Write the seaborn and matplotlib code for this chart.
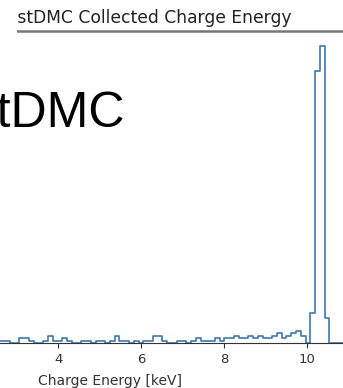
import numpy as np
import pandas as pd
import matplotlib
matplotlib.use('Agg')
import matplotlib.pyplot as plt
from matplotlib.patches import Rectangle
import seaborn as sns

# histogram of collected charge energy, 100 bins between -0.5 and 11 keV
e_min, e_max, n_bins = -0.5, 11.0, 100
counts = [
    1, 2, 1, 0, 1, 1, 2, 1, 1, 0,
    1, 1, 0, 1, 2, 1, 1, 1, 0, 1,
    1, 2, 1, 1, 0, 1, 1, 1, 1, 0,
    0, 2, 2, 1, 0, 0, 1, 3, 1, 1,
    2, 1, 0, 0, 1, 1, 0, 1, 1, 0,
    1, 3, 1, 1, 0, 1, 0, 1, 1, 3,
    3, 1, 0, 0, 1, 1, 0, 1, 2, 1,
    1, 1, 2, 1, 2, 2, 3, 2, 2, 3,
    2, 3, 2, 2, 3, 4, 2, 3, 4, 5,
    3, 0, 12, 110, 120, 10, 0, 0, 0, 0,
]
title = 'testDMC Collected Charge Energy'
big_label = 'testDMC'
x_label = 'Charge Energy [keV]'

edges = list(np.linspace(e_min, e_max, n_bins + 1))
centers = [(a + b) / 2 for a, b in zip(edges[:-1], edges[1:])]
df = pd.DataFrame({'energy': centers, 'n': counts})

sns.set_style('ticks')
plt.rcParams['xtick.major.size'] = 3.5

fig = plt.figure(figsize=(3.43, 3.88), dpi=100)
ax = fig.add_axes([-0.375, 0.116, 1.391, 0.803])

sns.histplot(data=df, x='energy', weights='n', bins=edges, element='step',
             fill=False, color='#3f78aa', linewidth=1.2, ax=ax)
ax.set_xlim(e_min, e_max)
ax.set_ylim(bottom=0)

ax.set_xticks([0, 2, 4, 6, 8, 10])
ax.tick_params(axis='x', labelsize=9.5, color='#333333', labelcolor='#333333')
ax.set_xlabel(x_label, fontsize=10, color='#333333', labelpad=6)
ax.set_ylabel('')
ax.set_yticks([])
ax.set_title(title, fontsize=12.3, loc='right', x=0.8797, color='#222222')

ax.spines['left'].set_visible(False)
ax.spines['right'].set_visible(False)
ax.spines['bottom'].set_color('#333333')
ax.spines['top'].set_color('#777777')
ax.spines['top'].set_linewidth(1.8)
ax.spines['top'].set_bounds(3.0, e_max)

# the start of the title is hidden in the original view
fig.add_artist(Rectangle((0, 0.9), 0.0496, 0.1, transform=fig.transFigure,
                         facecolor='white', edgecolor='none', zorder=10))

fig.text(0.365, 0.673, big_label, fontsize=36, family='Liberation Sans',
         ha='right', va='baseline', color='black')

fig.savefig('out.png', dpi=100)
